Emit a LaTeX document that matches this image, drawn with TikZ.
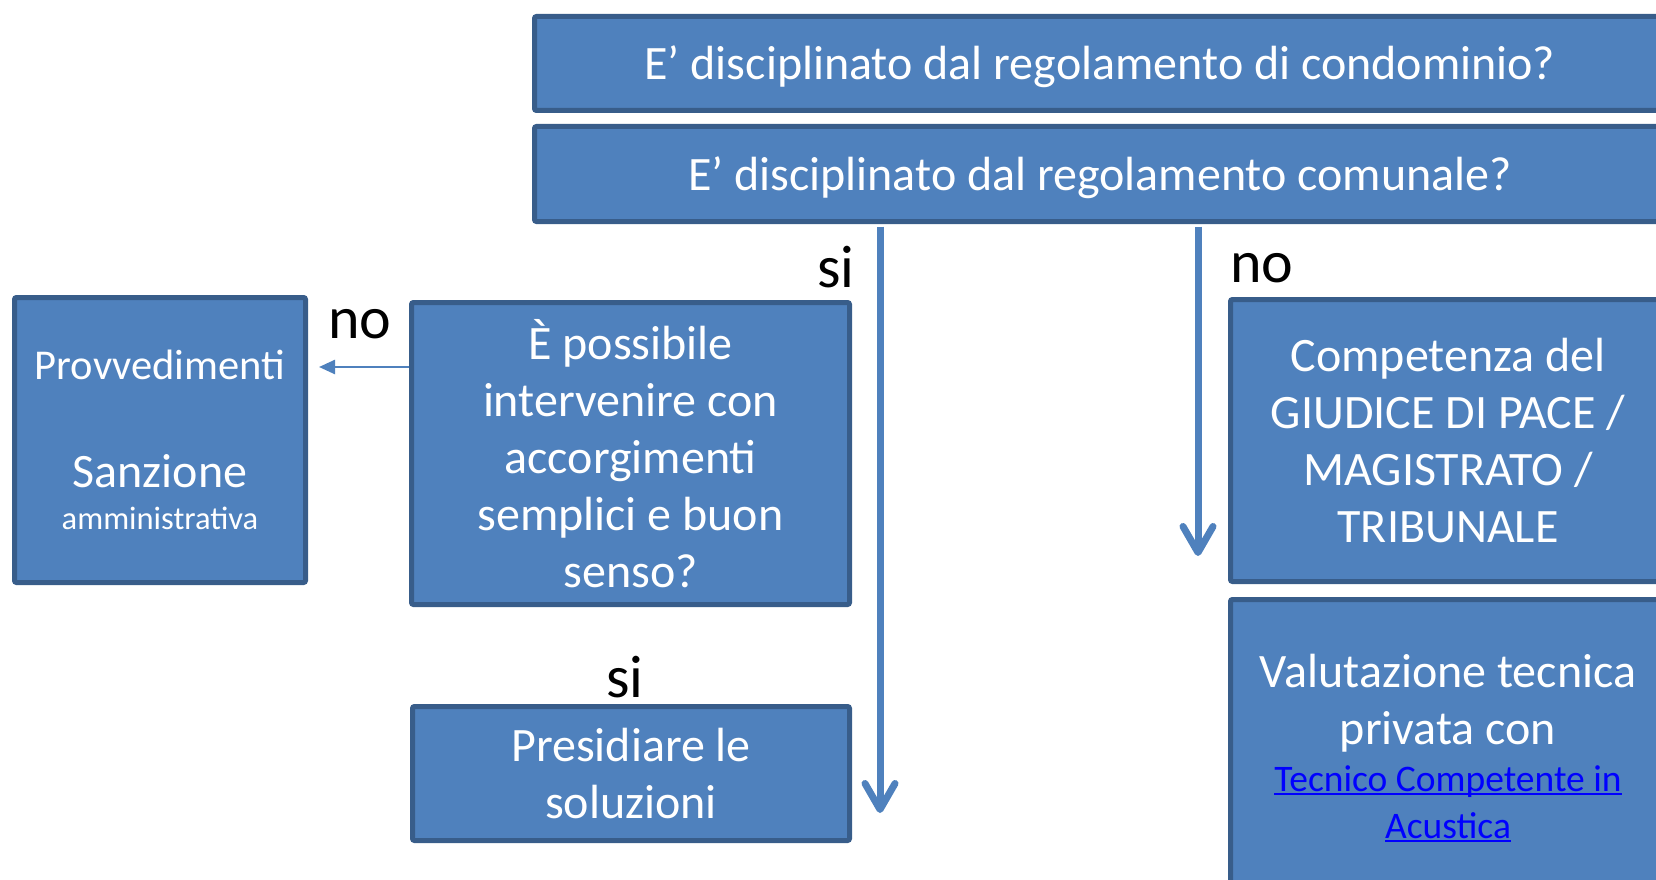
\documentclass[tikz,border=0pt]{standalone}
\usepackage{fontspec}
\setmainfont{Carlito}
\usetikzlibrary{arrows.meta}
\definecolor{boxfill}{HTML}{4F81BD}
\definecolor{boxline}{HTML}{385D8A}
\definecolor{linkblue}{HTML}{0000FF}
\newcommand\linkul[1]{\leavevmode\setbox0\hbox{#1}\rlap{\rule[-4pt]{\wd0}{2.2pt}}\box0}
\begin{document}
\begin{tikzpicture}[x=1pt,y=-1pt,
  box/.style={draw=boxline, fill=boxfill, line width=5pt, rounded corners=2pt, text=white, inner sep=0pt, align=flush center},
  big/.style={font=\fontsize{48}{57}\selectfont},
  topq/.style={box, font=\fontsize{48}{57}\selectfont, minimum width=1131pt, text height=40pt, text depth=7pt},
  lbl/.style={font=\fontsize{60}{64}\selectfont, text=black, anchor=base, inner sep=0pt},
  flow/.style={draw=boxfill, line width=7pt, shorten <=2.5pt, -{Straight Barb[length=26pt,width=30pt,line cap=round,line join=round]}},
  thinarrow/.style={draw=boxfill, line width=2.5pt, -{Triangle[length=16pt,width=14pt]}}
]
\useasboundingbox (0,0) rectangle (1656,880);

\node[topq, minimum height=94pt] (q1) at (1100,63.5) {E’ disciplinato dal regolamento di condominio?};
\node[topq, minimum height=95pt] (q2) at (1100,174) {E’ disciplinato dal regolamento comunale?};

\node[box, minimum width=291pt, minimum height=285pt, text width=285pt] (p) at (160,440)
  {{\fontsize{42.5}{50}\selectfont Provvedimenti\par}\vspace{50pt}{\fontsize{48}{58}\selectfont Sanzione\par}{\fontsize{32.5}{42}\selectfont amministrativa\par}};

\node[box, big, minimum width=438pt, minimum height=302pt, text width=430pt] (e) at (630.5,453.5)
  {È possibile\\intervenire con\\accorgimenti\\semplici e buon\\senso?};

\node[box, big, minimum width=437pt, minimum height=134pt, text width=430pt] (s) at (631,773.5)
  {Presidiare le\\soluzioni};

\node[box, big, minimum width=435pt, minimum height=282pt, text width=430pt] (g) at (1448,440.5)
  {Competenza del\\GIUDICE DI PACE /\\MAGISTRATO /\\TRIBUNALE};

\node[box, big, minimum width=435pt, minimum height=297pt, text width=430pt] (v) at (1448,748)
  {Valutazione tecnica\\privata con\par{\fontsize{37.5}{47}\selectfont\color{linkblue}\linkul{Tecnico Competente in}\\\linkul{Acustica}\par}};

\node[lbl] (si1) at (836,287) {si};
\node[lbl] (no1) at (1262,282) {no};
\node[lbl] (no2) at (360,338) {no};
\node[lbl] (si2) at (625,697) {si};

\coordinate (siend) at (880,813);
\coordinate (noend) at (1198,556);
\coordinate (ay) at (0,367);
\draw[flow] (siend |- q2.south) -- (siend);
\draw[flow] (noend |- q2.south) -- (noend);
\draw[thinarrow, shorten >=11pt] (e.west |- ay) -- (p.east |- ay);
\end{tikzpicture}
\end{document}
